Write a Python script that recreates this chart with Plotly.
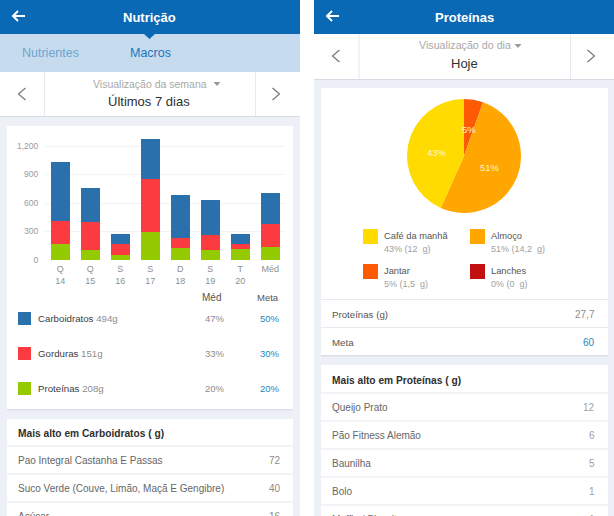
import plotly.graph_objects as go

W, H = 614, 516

# stacked bars, left screen
days = ['Q<br>14', 'Q<br>15', 'S<br>16', 'S<br>17', 'D<br>18', 'S<br>19', 'T<br>20', 'Méd<br> ']
proteinas = [165, 109, 53, 291, 130, 105, 112, 137]
gorduras = [249, 287, 115, 565, 105, 158, 60, 238]
carboidratos = [621, 358, 109, 418, 453, 372, 102, 327]
y_ticks = [0, 300, 600, 900, 1200]

macro_names = ['Carboidratos', 'Gorduras', 'Proteínas']
macro_grams = ['494g', '151g', '208g']
macro_med = ['47%', '33%', '20%']
macro_meta = ['50%', '30%', '20%']
macro_colors = ['#2a70ad', '#fb3b40', '#93cb00']

carb_foods = ['Pao Integral Castanha E Passas', 'Suco Verde (Couve, Limão, Maçã E Gengibre)', 'Açúcar']
carb_values = ['72', '40', '16']

# pie, right screen (clockwise from the top)
meals = ['Jantar', 'Almoço', 'Café da manhã', 'Lanches']
meal_grams = [1.5, 14.2, 12, 0]
meal_colors = ['#fc5a05', '#ffa600', '#ffdb00', '#c20f0f']
meal_pct = ['5%', '51%', '43%']

prot_foods = ['Queijo Prato', 'Pão Fitness Alemão', 'Baunilha', 'Bolo', 'Muffin / Biscoito']
prot_values = ['12', '6', '5', '1', '1']

BLUE = '#0a69b4'
PAGE = '#eef0f8'
LINE = '#e8eaf0'
DARK = '#3c3c3c'
GRAY = '#8c8c8c'
LINK = '#1f86bd'
FONT = 'Liberation Sans'


def px(x):
    return x / W


def py(y):
    return 1 - y / H


shapes = []
annotations = []


def rect(x0, y0, x1, y1, color):
    shapes.append(dict(type='rect', xref='paper', yref='paper', layer='below',
                       x0=px(x0), x1=px(x1), y0=py(y0), y1=py(y1),
                       fillcolor=color, line_width=0))


def text(x, y, s, size=10, color=DARK, anchor='left', bold=False):
    # annotations carry a small box padding, take it back out
    if anchor == 'left':
        x -= 2.5
    elif anchor == 'right':
        x += 2
    annotations.append(dict(xref='paper', yref='paper', x=px(x), y=py(y),
                            text='<b>%s</b>' % s if bold else s,
                            showarrow=False, xanchor=anchor, yanchor='middle',
                            font=dict(family=FONT, size=size, color=color)))


def path(points, color, width=1.2):
    d = 'M' + ' L'.join('%.4f,%.4f' % (px(a), py(b)) for a, b in points)
    shapes.append(dict(type='path', xref='paper', yref='paper', path=d,
                       line=dict(color=color, width=width)))


def back_arrow(x, y):
    path([(x - 6, y), (x + 6, y)], 'white', 2)
    path([(x - 1, y - 5), (x - 6, y), (x - 1, y + 5)], 'white', 2)


def chevron(x, y, left=True):
    d = 3.5 if left else -3.5
    path([(x + d, y - 6), (x - d, y), (x + d, y + 6)], '#777777')


def caret(x, y):
    shapes.append(dict(type='path', xref='paper', yref='paper', fillcolor='#999999', line_width=0,
                       path='M%.4f,%.4f L%.4f,%.4f L%.4f,%.4f Z' % (
                           px(x - 3.5), py(y - 2), px(x + 3.5), py(y - 2), px(x), py(y + 2))))


# --- left screen frame
rect(0, 0, 300, H, PAGE)
rect(0, 0, 300, 34, BLUE)
rect(0, 34, 300, 72, '#c6dcee')
shapes.append(dict(type='path', xref='paper', yref='paper', fillcolor=BLUE, line_width=0,
                   path='M%.4f,%.4f L%.4f,%.4f L%.4f,%.4f Z' % (
                       px(144), py(34), px(155), py(34), px(149.5), py(39))))
rect(0, 72, 300, 116, 'white')
rect(0, 116, 300, 117, '#d9dbe4')
rect(44, 72, 45, 116, LINE)
rect(255, 72, 256, 116, LINE)
rect(7, 126, 293, 409, 'white')
rect(7, 409, 293, 410.5, '#dcdee8')
rect(7, 419, 293, H, 'white')
back_arrow(19, 16)
text(149.5, 17, 'Nutrição', 13, 'white', 'center', True)
text(50, 53, 'Nutrientes', 12.5, '#6ea4d0', 'center')
text(150, 53, 'Macros', 12.5, '#1b76ba', 'center')
text(149.5, 84, 'Visualização da semana', 10.5, '#a8a8a8', 'center')
caret(217, 84)
text(149, 101, 'Últimos 7 dias', 13, '#2f2f2f', 'center')
chevron(22, 94)
chevron(276, 94, left=False)

# bar legend table
text(211, 297, 'Méd', 10, '#555555', 'center')
text(268, 297, 'Meta', 9.5, '#555555', 'center')
for i, name in enumerate(macro_names):
    y = 318.5 + 35 * i
    rect(18, y - 6.5, 31, y + 6.5, macro_colors[i])
    text(38, y, '%s <span style="color:%s">%s</span>' % (name, GRAY, macro_grams[i]), 9.7)
    text(224.5, y, macro_med[i], 9.5, GRAY, 'right')
    text(280, y, macro_meta[i], 9.5, LINK, 'right')

# carb list
text(18.5, 433, 'Mais alto em Carboidratos ( g)', 10.2, '#2f2f2f', bold=True)
for i, name in enumerate(carb_foods):
    y = 460 + 28 * i
    rect(7, y - 14.5, 293, y - 13.5, LINE)
    text(18.5, y, name, 10, '#666666')
    text(280.5, y, carb_values[i], 10, GRAY, 'right')

# --- right screen frame
rect(314, 0, W, H, PAGE)
rect(314, 0, W, 34, BLUE)
rect(314, 34, W, 79, 'white')
rect(314, 79, W, 80, '#d9dbe4')
rect(358.5, 34, 359.5, 79, LINE)
rect(570, 34, 571, 79, LINE)
rect(321, 88, 608, 355, 'white')
rect(321, 355, 608, 356.5, '#dcdee8')
rect(321, 365, 608, H, 'white')
back_arrow(333, 16)
text(464, 17, 'Proteínas', 13, 'white', 'center', True)
text(464.5, 45, 'Visualização do dia', 10.7, '#a8a8a8', 'center')
caret(518, 46)
text(464, 63, 'Hoje', 13, '#2f2f2f', 'center')
chevron(336, 56)
chevron(591, 56, left=False)

# pie labels and legend
for x, y, s in zip([469, 490, 437], [129, 167, 152], meal_pct):
    text(x, y, s, 9.5, '#fff6cc', 'center')
total = sum(meal_grams)
legend_order = [2, 1, 0, 3]
for i, m in enumerate(legend_order):
    x = 363 if i % 2 == 0 else 470
    y = 229 if i < 2 else 264
    rect(x, y, x + 15, y + 15, meal_colors[m])
    text(x + 21, y + 7, meals[m], 9.3, '#555555')
    grams = ('%g' % meal_grams[m]).replace('.', ',')
    text(x + 21, y + 20, '%d%% (%s  g)' % (round(100 * meal_grams[m] / total), grams), 9, '#a0a0a0')

rect(321, 299, 608, 300, LINE)
rect(321, 327, 608, 328, LINE)
text(332.5, 314, 'Proteínas (g)', 9.7, '#555555')
text(595, 314, '27,7', 10, GRAY, 'right')
text(332.5, 342, 'Meta', 9.7, '#555555')
text(595, 342, '60', 10, LINK, 'right')

# protein list
text(332.5, 380, 'Mais alto em Proteínas ( g)', 10.2, '#2f2f2f', bold=True)
for i, name in enumerate(prot_foods):
    y = 407 + 28 * i
    rect(321, y - 14.5, 608, y - 13.5, LINE)
    text(332.5, y, name, 10, '#666666')
    text(595, y, prot_values[i], 10, '#a0a0a0', 'right')

fig = go.Figure()
for name, vals, color in [('Proteínas', proteinas, macro_colors[2]),
                          ('Gorduras', gorduras, macro_colors[1]),
                          ('Carboidratos', carboidratos, macro_colors[0])]:
    fig.add_trace(go.Bar(x=days, y=vals, name=name, marker=dict(color=color, line_width=0)))

fig.add_trace(go.Pie(labels=meals, values=meal_grams, sort=False, direction='clockwise',
                     rotation=0, textinfo='none', showlegend=False,
                     marker=dict(colors=meal_colors, line_width=0),
                     domain=dict(x=[px(407), px(521)], y=[py(213), py(99)])))

fig.update_layout(
    width=W, height=H, autosize=False,
    margin=dict(l=0, r=0, t=0, b=0),
    barmode='stack', bargap=0.36,
    showlegend=False,
    paper_bgcolor='white', plot_bgcolor='rgba(0,0,0,0)',
    font=dict(family=FONT),
    shapes=shapes, annotations=annotations,
    xaxis=dict(domain=[px(45.3), px(285.3)], showgrid=False, zeroline=False, showline=False,
               automargin=False, ticks='', ticklabelstandoff=2,
               tickfont=dict(size=9, color='#8f8f8f', family=FONT), tickangle=0),
    yaxis=dict(domain=[py(260), py(136.5)], range=[0, 1300], tickvals=y_ticks, tickformat=',',
               gridcolor='#f2f3f6', zeroline=False, showline=False, ticks='',
               automargin=False, ticklen=0, ticklabelstandoff=6,
               tickfont=dict(size=8.5, color='#9a9a9a', family=FONT)),
)

# the browser's default body margin would push the page 8px off
fig.write_html("out.html", config=dict(displayModeBar=False),
               post_script="document.body.style.margin='0';document.body.style.overflow='hidden';")
